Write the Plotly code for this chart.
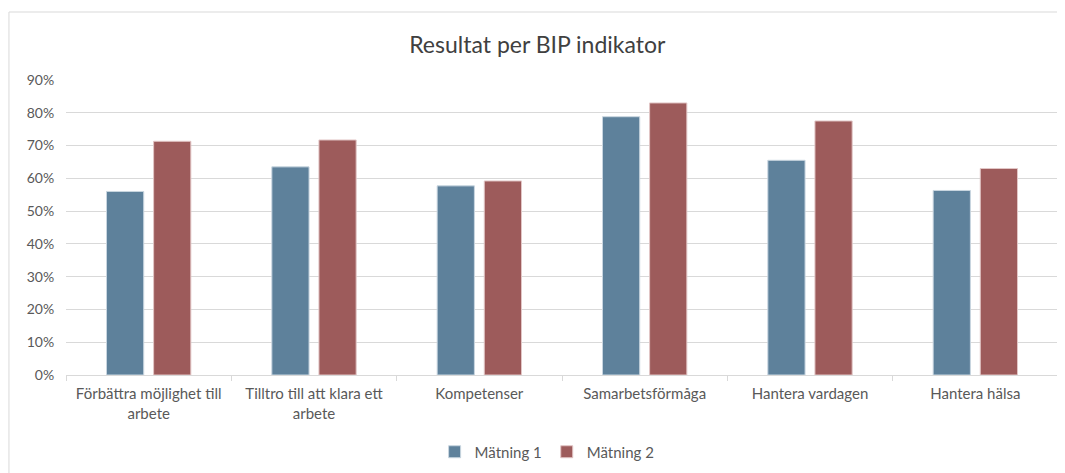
import plotly.graph_objects as go

kategorier = ["Förbättra möjlighet till<br>arbete", "Tilltro till att klara ett<br>arbete",
              "Kompetenser", "Samarbetsförmåga", "Hantera vardagen", "Hantera hälsa"]
matning_1 = [0.56, 0.635, 0.577, 0.788, 0.655, 0.563]
matning_2 = [0.713, 0.717, 0.592, 0.830, 0.775, 0.630]

FONT = "Lato"
GRID = "#d9d9d9"
TEXT = "#595959"

fig = go.Figure()
fig.add_trace(go.Bar(x=kategorier, y=matning_1, name="Mätning 1",
                     marker=dict(color="#5e819b", line=dict(color="#c9d6e0", width=1))))
fig.add_trace(go.Bar(x=kategorier, y=matning_2, name="Mätning 2",
                     marker=dict(color="#9d5b5b", line=dict(color="#e2c6c6", width=1))))

# ram runt diagrammet
fig.add_shape(type="rect", xref="paper", yref="paper",
              x0=-0.0575, x1=1.004, y0=-0.34, y1=1.2305,
              line=dict(color=GRID, width=1), layer="below")

fig.update_layout(
    width=1065, height=473,
    margin=dict(l=58, r=15, t=72, b=106),
    paper_bgcolor="white", plot_bgcolor="white",
    font=dict(family=FONT, color=TEXT, size=15),
    title=dict(text="Resultat per BIP indikator", x=0.497, xanchor="center",
               y=0.922, yanchor="middle", font=dict(size=23, color="#404040", family=FONT)),
    barmode="group", bargap=0.43, bargroupgap=0.21,
    legend=dict(orientation="h", x=0.485, xanchor="center", y=-0.261, yanchor="middle",
                font=dict(size=15, color=TEXT), itemwidth=30, traceorder="normal"),
    xaxis=dict(showline=True, linecolor=GRID, ticks="outside", tickson="boundaries",
               tickcolor=GRID, ticklen=5, ticklabelstandoff=5,
               tickfont=dict(size=15, color=TEXT)),
    yaxis=dict(range=[0, 0.9], dtick=0.1, tickformat=".0%", showgrid=True,
               gridcolor=GRID, zeroline=False, ticks="outside", ticklen=8,
               tickcolor="rgba(0,0,0,0)",
               tickfont=dict(size=14, color=TEXT)),
)

fig.write_html("out.html")
